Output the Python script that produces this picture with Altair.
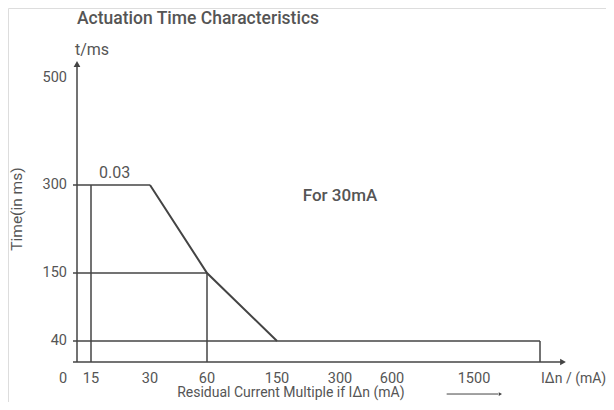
import altair as alt
import pandas as pd

# ---- data ----
x_tick_values = [15, 30, 60, 150, 300, 600, 1500]
y_tick_values = [40, 150, 300, 500]

curve_x = [30, 60, 150]          # sloped part of the characteristic
curve_y = [300, 150, 40]

h_guide_y = [300, 150, 40]       # horizontal guide lines (from y axis)
h_guide_xend = [30, 60, 3000]
v_guide_x = [15, 60, 3000]       # vertical guide lines (from x axis)
v_guide_yend = [300, 150, 40]

x_end = 3000
x_arrow = 5000
y_arrow = 525

LINE = "#444444"
TEXT = "#555555"
FONT = "Roboto"

# piecewise (non-uniform) scales, as the reference spaces ticks unevenly
xscale = alt.Scale(domain=[0, 15, 30, 60, 150, 300, 600, 1500, 3000, 5000],
                   range=[69, 83, 142, 199, 269, 332, 384, 466, 532, 555],
                   nice=False, zero=False)
yscale = alt.Scale(domain=[0, 40, 150, 300, 500, 525],
                   range=[354, 333, 265, 177, 70, 56],
                   nice=False, zero=False)

def X(f="x"):
    return alt.X(f"{f}:Q", scale=xscale, axis=None)

def Y(f="y"):
    return alt.Y(f"{f}:Q", scale=yscale, axis=None)

def txt(df, **kw):
    props = dict(font=FONT, color=TEXT, baseline="middle")
    props.update(kw)
    return alt.Chart(df).mark_text(**props).encode(x=X(), y=Y(), text="t:N")

# axes
x_axis = alt.Chart(pd.DataFrame({"x": [0], "x2": [x_arrow], "y": [0]})).mark_rule(
    color=LINE, strokeWidth=1.5, xOffset=-4).encode(x=X(), x2="x2:Q", y=Y())
y_axis = alt.Chart(pd.DataFrame({"x": [0], "y": [0], "y2": [y_arrow]})).mark_rule(
    color=LINE, strokeWidth=1.5).encode(x=X(), y=Y(), y2="y2:Q")
arrows = alt.Chart(pd.DataFrame({"x": [x_arrow, 0], "y": [0, y_arrow],
                                 "s": ["triangle-right", "triangle-up"]})).mark_point(
    filled=True, color=LINE, opacity=1, size=45).encode(
    x=X(), y=Y(), shape=alt.Shape("s:N", scale=None))

# guides
h_guides = alt.Chart(pd.DataFrame({"y": h_guide_y, "x": [0] * 3, "x2": h_guide_xend})).mark_rule(
    color=LINE, strokeWidth=1.5, xOffset=-4).encode(x=X(), x2="x2:Q", y=Y())
v_guides = alt.Chart(pd.DataFrame({"x": v_guide_x, "y": [0] * 3, "y2": v_guide_yend})).mark_rule(
    color=LINE, strokeWidth=1.5).encode(x=X(), y=Y(), y2="y2:Q")

curve = alt.Chart(pd.DataFrame({"x": curve_x, "y": curve_y})).mark_line(
    color=LINE, strokeWidth=2).encode(x=X(), y=Y())

# tick labels
x_labels = txt(pd.DataFrame({"x": x_tick_values, "y": [0] * len(x_tick_values),
                             "t": [str(v) for v in x_tick_values]}),
               fontSize=14.5, dy=17)
y_labels = txt(pd.DataFrame({"x": [0] * len(y_tick_values), "y": y_tick_values,
                             "t": [str(v) for v in y_tick_values]}),
               fontSize=14.5, dx=-10, align="right")
zero_label = txt(pd.DataFrame({"x": [0], "y": [0], "t": ["0"]}),
                 fontSize=14.5, dx=-14, dy=17)
unit_label = txt(pd.DataFrame({"x": [x_end], "y": [0], "t": ["I\u0394n / (mA)"]}),
                 fontSize=14, dx=1, dy=17, align="left")

# annotations
title = txt(pd.DataFrame({"x": [0], "y": [605], "t": ["Actuation Time Characteristics"]}),
            fontSize=17.5, fontWeight=500, align="left")
y_unit = txt(pd.DataFrame({"x": [0], "y": [550], "t": ["t/ms"]}),
             fontSize=16, dx=-2, align="left")
y_title = txt(pd.DataFrame({"x": [-64], "y": [259], "t": ["Time(in ms)"]}),
              fontSize=15.5, angle=270)
x_title = txt(pd.DataFrame({"x": [183], "y": [-59],
                            "t": ["Residual Current Multiple if I\u0394n (mA)"]}),
              fontSize=14)
title_arrow = alt.Chart(pd.DataFrame({"x": [1200], "x2": [2050], "y": [-61]})).mark_rule(
    color=LINE, strokeWidth=1).encode(x=X(), x2="x2:Q", y=Y())
title_arrow_head = alt.Chart(pd.DataFrame({"x": [2100], "y": [-61]})).mark_point(
    filled=True, color=LINE, opacity=1, size=14, shape="triangle-right").encode(x=X(), y=Y())
val_label = txt(pd.DataFrame({"x": [21], "y": [322], "t": ["0.03"]}),
                fontSize=16)
for_label = txt(pd.DataFrame({"x": [300], "y": [281], "t": ["For 30mA"]}),
                fontSize=17, fontWeight=500)

chart = alt.layer(
    h_guides, v_guides, curve, x_axis, y_axis, arrows,
    x_labels, y_labels, zero_label, unit_label,
    title, y_unit, y_title, x_title, title_arrow, title_arrow_head, val_label, for_label,
).properties(
    width=598, height=394, padding=0,
    autosize=alt.AutoSizeParams(type="none"),
).configure_view(stroke=None).configure(background="white")

chart.save("out.html", embed_options={"renderer": "svg", "actions": False})
